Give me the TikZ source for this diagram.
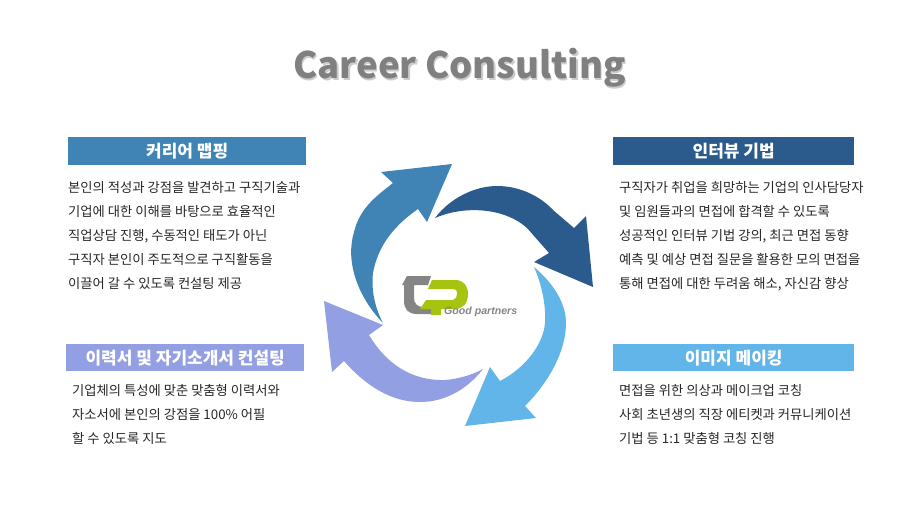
\documentclass[tikz,border=0pt]{standalone}
\usepackage{fontspec}
\setmainfont{Noto Sans CJK KR}
\newfontfamily\logofont{Liberation Sans}
\usepackage{tikz}
\definecolor{mapblue}{HTML}{3F84B5}
\definecolor{interviewblue}{HTML}{2A5B8C}
\definecolor{imageblue}{HTML}{62B5E8}
\definecolor{resumeblue}{HTML}{929FE3}
\definecolor{logogray}{HTML}{858585}
\definecolor{logogreen}{HTML}{A5C30F}
\tikzstyle{headbox} = [rectangle, anchor=north west, minimum height=28pt, text centered, inner sep=0pt, font=\fontsize{17}{20}\selectfont\bfseries, text=white]
\tikzstyle{bodytext} = [anchor=north west, inner sep=0pt, align=left, text=black!85, font=\fontsize{13.3}{24}\selectfont]

\begin{document}
\begin{tikzpicture}[x=1pt,y=-1pt]
\useasboundingbox (0,0) rectangle (920,517);

\node (titleshadow) [text=black!20, font=\fontsize{36.5}{40}\selectfont\bfseries] at (461,69.5) {Career Consulting};
\node (title) [text=black!50, font=\fontsize{36.5}{40}\selectfont\bfseries] at (459.5,68) {Career Consulting};

\node (mapping) [headbox, fill=mapblue, minimum width=238pt] at (68,137) {커리어 맵핑};
\node (resume) [headbox, fill=resumeblue, minimum width=238pt, minimum height=27pt] at (66,344) {이력서 및 자기소개서 컨설팅};
\node (interview) [headbox, fill=interviewblue, minimum width=241pt] at (613,137) {인터뷰 기법};
\node (imagemaking) [headbox, fill=imageblue, minimum width=241pt, minimum height=27pt] at (613,344) {이미지 메이킹};

\node (mappingtext) [bodytext] at (68,181.5) {본인의 적성과 강점을 발견하고 구직기술과\\기업에 대한 이해를 바탕으로 효율적인\\직업상담 진행, 수동적인 태도가 아닌\\구직자 본인이 주도적으로 구직활동을\\이끌어 갈 수 있도록 컨설팅 제공};
\node (resumetext) [bodytext] at (72,384.5) {기업체의 특성에 맞춘 맞춤형 이력서와\\자소서에 본인의 강점을 100\% 어필\\할 수 있도록 지도};
\node (interviewtext) [bodytext] at (619,181.5) {구직자가 취업을 희망하는 기업의 인사담당자\\및 임원들과의 면접에 합격할 수 있도록\\성공적인 인터뷰 기법 강의, 최근 면접 동향\\예측 및 예상 면접 질문을 활용한 모의 면접을\\통해 면접에 대한 두려움 해소, 자신감 향상};
\node (imagetext) [bodytext] at (619,384.5) {면접을 위한 의상과 메이크업 코칭\\사회 초년생의 직장 에티켓과 커뮤니케이션\\기법 등 1:1 맞춤형 코칭 진행};

% circular arrows
\fill [mapblue] (383,323) .. controls (358,297) and (345,262) .. (354,232) .. controls (360,207) and (378,195) .. (393,183) -- (381,172) -- (452,164) -- (427,222) -- (418,209) .. controls (395,225) and (378,245) .. (373,273) .. controls (371,290) and (375,308) .. (383,323) -- cycle;
\fill [interviewblue] (435,218) .. controls (450,198) and (475,186) .. (497,186) .. controls (522,186) and (542,198) .. (553,210) -- (574,228) -- (586,216) -- (593,287) -- (534,262) -- (549,253) -- (527,228) .. controls (505,208) and (465,205) .. (435,218) -- cycle;
\fill [imageblue] (534,267) .. controls (552,282) and (566,302) .. (566,323) .. controls (566,352) and (548,383) .. (525,406) -- (536,418) -- (465,426) -- (490,367) -- (500,381) .. controls (525,368) and (543,345) .. (545,323) .. controls (546,305) and (542,285) .. (534,267) -- cycle;
\fill [resumeblue] (483,369) .. controls (465,392) and (442,402) .. (420,402) .. controls (392,402) and (367,387) .. (344,361) -- (332,372) -- (324,301) -- (383,325) -- (369,335) .. controls (385,362) and (410,381) .. (445,380) .. controls (458,379) and (472,375) .. (483,369) -- cycle;

% logo
\fill [logogray] (402,285) -- (407,276) -- (431,276) -- (428,285) -- (414,285) -- (414,298) .. controls (414,304) and (418,307) .. (423,307) -- (431,307) -- (431,314) -- (417,314) .. controls (408,314) and (404,309) .. (404,301) -- (404,285) -- cycle;
\fill [logogreen] (432,280) -- (455,280) .. controls (464,280) and (468,286) .. (468,294) .. controls (468,303) and (463,309) .. (455,309) -- (441,309) -- (441,315) -- (431,315) -- (431,309) -- (420,309) -- (426,300) -- (453,300) .. controls (456,299) and (457,297) .. (457,294) .. controls (457,290) and (456,289) .. (453,289) -- (428,289) -- cycle;
\node (logotext) [anchor=west, inner sep=0pt, text=logogray, font=\logofont\fontsize{10.6}{12}\selectfont\bfseries\itshape] at (444,312) {Good partners};
\end{tikzpicture}
\end{document}
